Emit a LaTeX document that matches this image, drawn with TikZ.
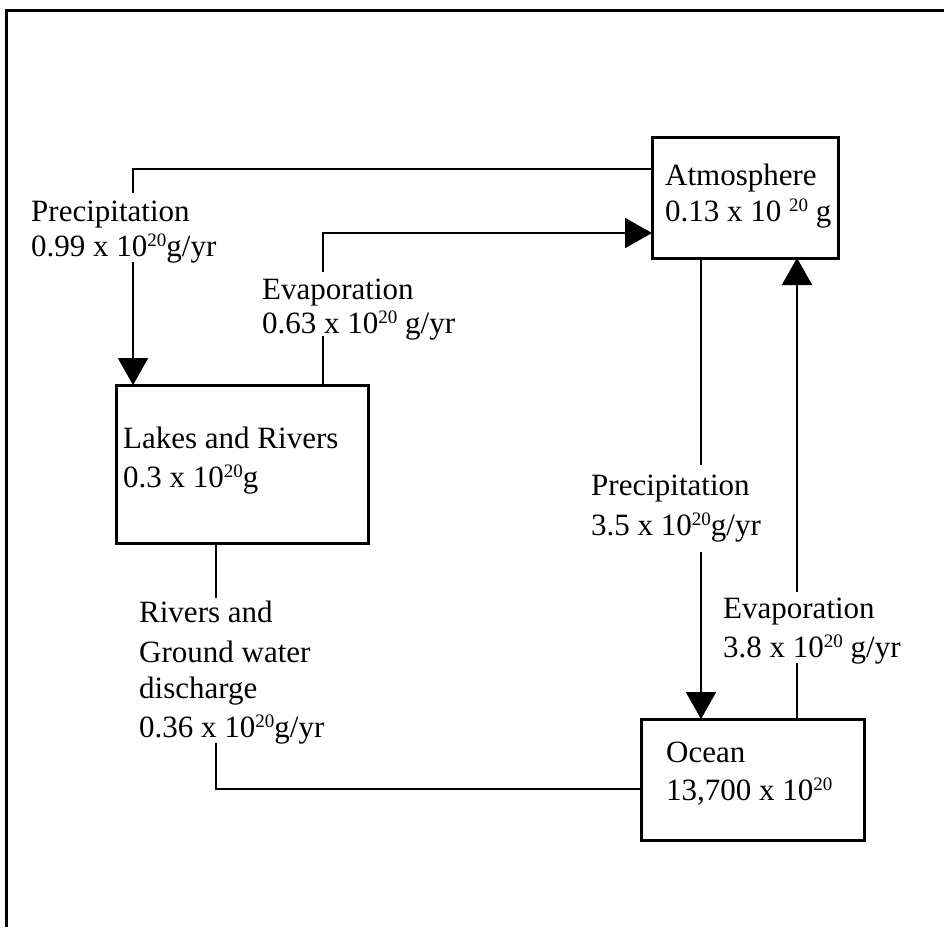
\documentclass[tikz,border=0pt]{standalone}
\usepackage{fontspec}
\setmainfont{Liberation Serif}
\usetikzlibrary{arrows.meta}
\newcommand{\sps}[1]{\raisebox{10pt}{\fontsize{19}{19}\selectfont #1}}
\begin{document}
\begin{tikzpicture}[x=1pt,y=-1pt,
  frame/.style={line width=3pt},
  box/.style={draw,line width=3pt,inner sep=0pt,outer sep=0pt,anchor=north west},
  conn/.style={line width=2pt},
  arr/.style={-{Triangle[length=27pt,width=30pt]}},
  lbl/.style={inner sep=0pt,anchor=base west,font=\fontsize{31}{37}\selectfont}]
\useasboundingbox (0,0) rectangle (944,927);
% frame
\coordinate (ftl) at (6,10);
\coordinate (ftr) at (944,10);
\coordinate (fbl) at (6,927);
\draw[frame] (ftr) -- (ftl) -- (fbl);
% boxes
\node[box,minimum width=186pt,minimum height=121pt] (atm) at (652,137) {};
\node[box,minimum width=252pt,minimum height=158pt] (lakes) at (116,385) {};
\node[box,minimum width=223pt,minimum height=121pt] (ocean) at (641,719) {};
% box texts
\node[lbl] (atm1) at (665,185) {Atmosphere};
\node[lbl] (atm2) at (665,221) {0.13 x 10 \sps{20} g};
\node[lbl] (lak1) at (123,448) {Lakes and Rivers};
\node[lbl] (lak2) at (123,487) {0.3 x 10\sps{20}g};
\node[lbl] (oce1) at (666,762) {Ocean};
\node[lbl] (oce2) at (666,800) {13,700 x 10\sps{20}};
% flow labels
\node[lbl] (pl1) at (31,221) {Precipitation};
\node[lbl] (pl2) at (31,256) {0.99 x 10\sps{20}g/yr};
\node[lbl] (el1) at (262,299) {Evaporation};
\node[lbl] (el2) at (262,333) {0.63 x 10\sps{20} g/yr};
\node[lbl] (rl1) at (139,622) {Rivers and};
\node[lbl] (rl2) at (139,662) {Ground water};
\node[lbl] (rl3) at (139,698) {discharge};
\node[lbl] (rl4) at (139,737) {0.36 x 10\sps{20}g/yr};
\node[lbl] (pr1) at (591,495) {Precipitation};
\node[lbl] (pr2) at (591,535) {3.5 x 10\sps{20}g/yr};
\node[lbl] (er1) at (723,618) {Evaporation};
\node[lbl] (er2) at (723,657) {3.8 x 10\sps{20} g/yr};
% atmosphere -> lakes (precipitation)
\coordinate (pA) at (133,169);
\coordinate (pB) at (133,193);
\coordinate (pC) at (133,262);
\draw[conn] (atm.west |- pA) -- (pA) -- (pB);
\draw[conn,arr] (pC) -- (lakes.north -| pC);
% lakes -> atmosphere (evaporation)
\coordinate (eA) at (323,336);
\coordinate (eB) at (323,272);
\coordinate (eC) at (323,233);
\draw[conn] (lakes.north -| eA) -- (eA);
\draw[conn,arr] (eB) -- (eC) -- (atm.west |- eC);
% lakes -> ocean (discharge)
\coordinate (rA) at (216,598);
\coordinate (rB) at (216,743);
\coordinate (rC) at (216,789);
\draw[conn] (lakes.south -| rA) -- (rA);
\draw[conn] (rB) -- (rC) -- (ocean.west |- rC);
% atmosphere -> ocean (precipitation)
\coordinate (qA) at (701,465);
\coordinate (qB) at (701,552);
\draw[conn] (atm.south -| qA) -- (qA);
\draw[conn,arr] (qB) -- (ocean.north -| qB);
% ocean -> atmosphere (evaporation)
\coordinate (vA) at (797,663);
\coordinate (vB) at (797,592);
\draw[conn] (ocean.north -| vA) -- (vA);
\draw[conn,arr] (vB) -- (atm.south -| vB);
\end{tikzpicture}
\end{document}
